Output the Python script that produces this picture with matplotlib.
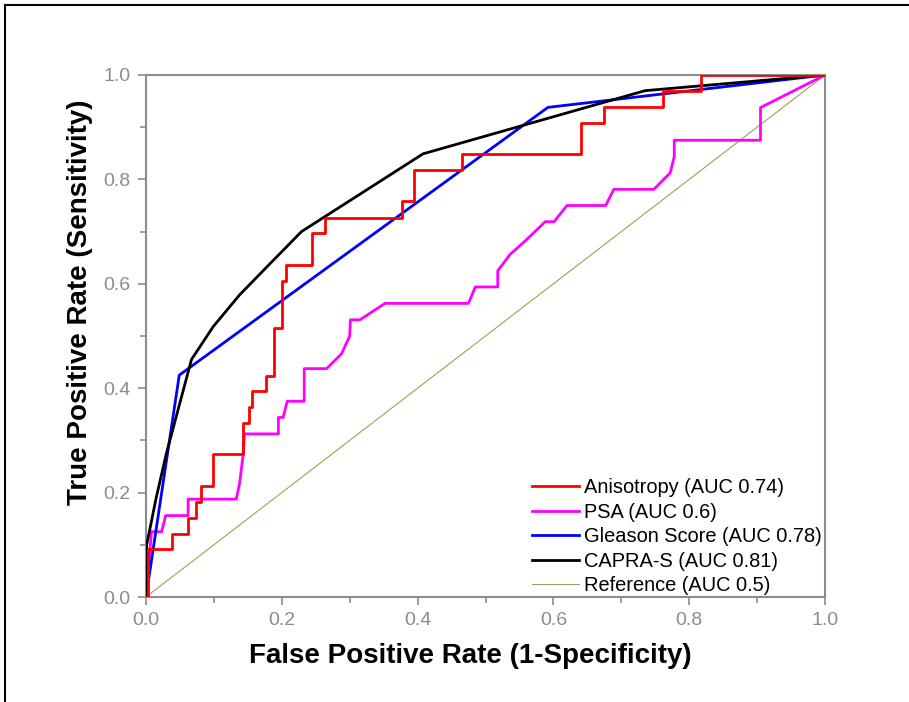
import matplotlib
matplotlib.use("Agg")
import matplotlib.pyplot as plt
from matplotlib.lines import Line2D
from matplotlib.ticker import MultipleLocator

# ROC curve vertices
aniso_fpr = [0, 0.003, 0.003, 0.038, 0.038, 0.062, 0.062, 0.074, 0.074, 0.081, 0.081,
             0.099, 0.099, 0.143, 0.143, 0.151, 0.151, 0.156, 0.156, 0.177, 0.177,
             0.189, 0.189, 0.200, 0.200, 0.206, 0.206, 0.245, 0.245, 0.264, 0.264,
             0.377, 0.377, 0.395, 0.395, 0.465, 0.465, 0.641, 0.641, 0.674, 0.674,
             0.761, 0.761, 0.818, 0.818, 1.0]
aniso_tpr = [0, 0, 0.091, 0.091, 0.121, 0.121, 0.152, 0.152, 0.182, 0.182, 0.212,
             0.212, 0.273, 0.273, 0.333, 0.333, 0.364, 0.364, 0.394, 0.394, 0.424,
             0.424, 0.515, 0.515, 0.606, 0.606, 0.636, 0.636, 0.697, 0.697, 0.727,
             0.727, 0.758, 0.758, 0.818, 0.818, 0.848, 0.848, 0.909, 0.909, 0.939,
             0.939, 0.970, 0.970, 1.0, 1.0]

psa_fpr = [0, 0.004, 0.008, 0.023, 0.029, 0.062, 0.062, 0.133, 0.138, 0.143, 0.145,
           0.195, 0.195, 0.202, 0.208, 0.233, 0.233, 0.266, 0.288, 0.300, 0.301,
           0.315, 0.352, 0.475, 0.485, 0.518, 0.518, 0.536, 0.560, 0.588, 0.601,
           0.620, 0.677, 0.689, 0.748, 0.772, 0.778, 0.778, 0.905, 0.905, 1.0]
psa_tpr = [0, 0.06, 0.125, 0.125, 0.156, 0.156, 0.1875, 0.1875, 0.219, 0.272, 0.3125,
           0.3125, 0.344, 0.344, 0.375, 0.375, 0.4375, 0.4375, 0.466, 0.5, 0.531,
           0.531, 0.5625, 0.5625, 0.594, 0.594, 0.625, 0.656, 0.684, 0.719, 0.719,
           0.75, 0.75, 0.781, 0.781, 0.8125, 0.844, 0.875, 0.875, 0.9375, 1.0]

gleason_fpr = [0, 0.049, 0.592, 1.0]
gleason_tpr = [0, 0.425, 0.938, 1.0]

capra_fpr = [0, 0.001, 0.015, 0.030, 0.067, 0.099, 0.138, 0.183, 0.229, 0.408, 0.735, 1.0]
capra_tpr = [0, 0.100, 0.190, 0.275, 0.455, 0.518, 0.579, 0.639, 0.700, 0.849, 0.970, 1.0]

ref_x = [0, 1]
ref_y = [0, 1]

labels = ["Anisotropy (AUC 0.74)", "PSA (AUC 0.6)", "Gleason Score (AUC 0.78)",
          "CAPRA-S (AUC 0.81)", "Reference (AUC 0.5)"]

plt.rcParams['font.family'] = ['Liberation Sans', 'DejaVu Sans']

fig = plt.figure(figsize=(9.09, 7.02), dpi=100)
ax = fig.add_axes([146/909, 1-597/702, 679/909, 522/702])

ax.plot(ref_x, ref_y, color='#a0a050', lw=0.8, label=labels[4], zorder=1)
ax.plot(psa_fpr, psa_tpr, color='#ff00ff', lw=2, label=labels[1], zorder=2)
ax.plot(gleason_fpr, gleason_tpr, color='#0000ff', lw=2, label=labels[2], zorder=3)
ax.plot(capra_fpr, capra_tpr, color='black', lw=2, label=labels[3], zorder=4)
ax.plot(aniso_fpr, aniso_tpr, color='#ff0000', lw=2, label=labels[0], zorder=5)

ax.set_xlim(0, 1)
ax.set_ylim(0, 1)
ax.xaxis.set_major_locator(MultipleLocator(0.2))
ax.xaxis.set_minor_locator(MultipleLocator(0.1))
ax.yaxis.set_major_locator(MultipleLocator(0.2))
ax.yaxis.set_minor_locator(MultipleLocator(0.1))
ax.xaxis.set_major_formatter(lambda v, p: f"{v:.1f}")
ax.yaxis.set_major_formatter(lambda v, p: f"{v:.1f}")

gray = '#8c8c8c'
for s in ax.spines.values():
    s.set_color(gray)
    s.set_linewidth(1.5)
ax.tick_params(which='major', direction='out', length=6, width=1.2, color=gray,
               labelcolor=gray, labelsize=14, pad=5)
ax.tick_params(which='minor', direction='out', length=4, width=1.2, color=gray)

ax.set_xlabel("False Positive Rate (1-Specificity)", fontsize=20, fontweight='bold')
ax.set_ylabel("True Positive Rate (Sensitivity)", fontsize=20, fontweight='bold')
# labels sit a little off-centre in the original
ax.xaxis.set_label_coords(0.477, -0.088)
ax.yaxis.set_label_coords(-0.078, 0.565)

h, l = ax.get_legend_handles_labels()
order = [l.index(x) for x in labels]
ax.legend([h[i] for i in order], [l[i] for i in order], loc='lower left',
          bbox_to_anchor=(0.568, 0.003), frameon=False, fontsize=14.4,
          handlelength=2.35, handletextpad=0.25, labelspacing=0.28, borderpad=0,
          borderaxespad=0)

# frame lines at top and left of the picture
fig.add_artist(Line2D([5/909, 1.0], [1-5/702, 1-5/702], color='black', lw=1.5))
fig.add_artist(Line2D([5/909, 5/909], [0, 1-5/702], color='black', lw=1.5))

fig.savefig("out.png", dpi=100)
